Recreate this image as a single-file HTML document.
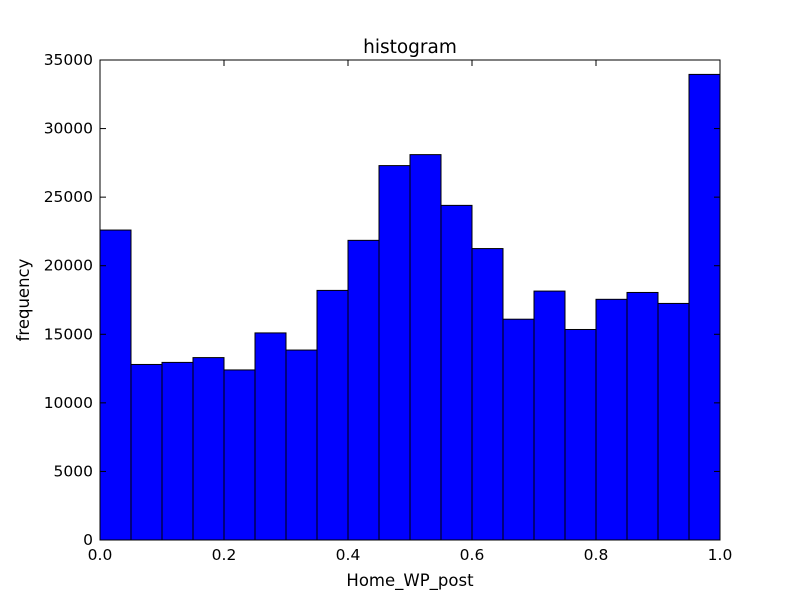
<!DOCTYPE html>
<html><head><meta charset="utf-8"><style>
body{margin:0;background:#fff;}
svg text{font-family:"DejaVu Sans","Liberation Sans",sans-serif;}
</style></head><body>
<svg id="chart" width="800" height="600" xmlns="http://www.w3.org/2000/svg">
<rect width="800" height="600" fill="#fff"/>
<g id="bars"></g>
<g id="axes"></g>
<text x="410" y="53" text-anchor="middle" font-size="18.5">histogram</text>
<text x="410" y="586" text-anchor="middle" font-size="16.5">Home_WP_post</text>
<text x="29" y="300" text-anchor="middle" font-size="16.5" transform="rotate(-90 29 300)">frequency</text>
</svg>
<script>
const binEdges = [0,0.05,0.1,0.15,0.2,0.25,0.3,0.35,0.4,0.45,0.5,0.55,0.6,0.65,0.7,0.75,0.8,0.85,0.9,0.95,1.0];
const counts = [22600,12800,12950,13300,12400,15100,13850,18200,21850,27300,28100,24400,21250,16100,18150,15350,17550,18050,17250,33950];
const xTicks = [0,0.2,0.4,0.6,0.8,1.0];
const xTickLabels = ["0.0","0.2","0.4","0.6","0.8","1.0"];
const yTicks = [0,5000,10000,15000,20000,25000,30000,35000];
const yTickLabels = ["0","5000","10000","15000","20000","25000","30000","35000"];

const L=100,R=720,T=60,B=540;
const xs=v=>L+(v-0)/(1-0)*(R-L);
const ys=v=>B-(v/35000)*(B-T);
const NS="http://www.w3.org/2000/svg";
const bars=document.getElementById('bars'), axes=document.getElementById('axes');
function mk(tag,attrs,parent){const e=document.createElementNS(NS,tag);for(const k in attrs)e.setAttribute(k,attrs[k]);parent.appendChild(e);return e;}
counts.forEach((c,i)=>{
  const x0=xs(binEdges[i]),x1=xs(binEdges[i+1]);
  const r=mk('rect',{x:x0,y:ys(c),width:x1-x0,height:B-ys(c),fill:'#0000ff',stroke:'#000','stroke-width':1},bars);
  
  
});
const frame=mk('rect',{x:L,y:T,width:R-L,height:B-T,fill:'none',stroke:'#000','stroke-width':1},axes);


xTicks.forEach((v,i)=>{
  const x=xs(v);
  mk('line',{x1:x,y1:B,x2:x,y2:B-6,stroke:'#000'},axes);
  mk('line',{x1:x,y1:T,x2:x,y2:T+6,stroke:'#000'},axes);
  const t=mk('text',{x:x,y:B+20,'text-anchor':'middle','font-size':15.5},axes);
  t.textContent=xTickLabels[i];
  
  
});
yTicks.forEach((v,i)=>{
  const y=ys(v);
  mk('line',{x1:L,y1:y,x2:L+6,y2:y,stroke:'#000'},axes);
  mk('line',{x1:R,y1:y,x2:R-6,y2:y,stroke:'#000'},axes);
  const t=mk('text',{x:L-7,y:y+5,'text-anchor':'end','font-size':15.5},axes);
  t.textContent=yTickLabels[i];
  
  
});
</script>
</body></html>
